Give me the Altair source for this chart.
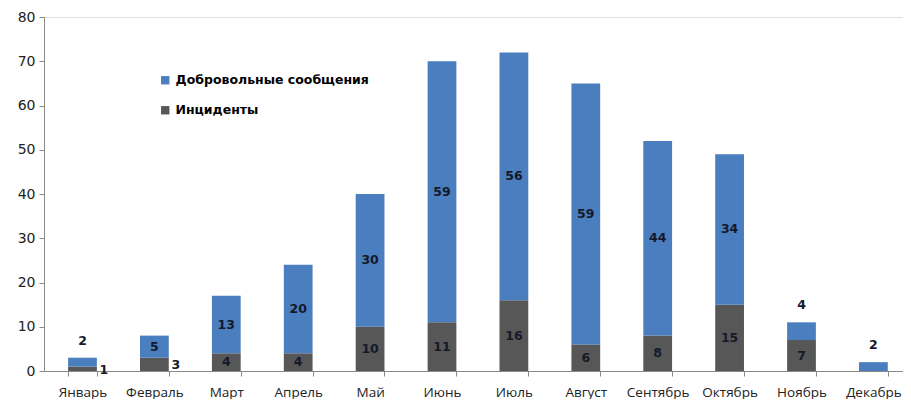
import altair as alt
import pandas as pd

months = ["Январь", "Февраль", "Март", "Апрель", "Май", "Июнь", "Июль",
          "Август", "Сентябрь", "Октябрь", "Ноябрь", "Декабрь"]
voluntary = [2, 5, 13, 20, 30, 59, 56, 59, 44, 34, 4, 2]
incidents = [1, 3, 4, 4, 10, 11, 16, 6, 8, 15, 7, 0]
series = ["Добровольные сообщения", "Инциденты"]
colors = ["#4a7ebf", "#575757"]

# label placement style (not data): which labels sit outside the bar
above_top = {"Январь", "Ноябрь", "Декабрь"}
right_side = {"Январь", "Февраль"}

rows = []
for m, v, i in zip(months, voluntary, incidents):
    rows.append({"month": m, "series": series[1], "value": i, "ord": 0,
                 "mid": i / 2, "top": i + v})
    rows.append({"month": m, "series": series[0], "value": v, "ord": 1,
                 "mid": i + v / 2, "top": i + v})
df = pd.DataFrame(rows)


def mode(r):
    if r["value"] == 0:
        return "none"
    if r["series"] == series[0] and r["month"] in above_top:
        return "above"
    if r["series"] == series[1] and r["month"] in right_side:
        return "right"
    return "inside"


df["mode"] = df.apply(mode, axis=1)

x_enc = alt.X("month:N", sort=months, title=None,
              scale=alt.Scale(paddingInner=0.6, paddingOuter=0.2735, align=0.613),
              axis=alt.Axis(labelAngle=0, tickBand="extent", labelFontSize=13.5,
                            labelFont="Open Sans", labelColor="#222222",
                            labelPadding=9, domainColor="#888888",
                            tickColor="#888888", tickSize=5))

bars = alt.Chart(df).mark_bar().encode(
    x=x_enc,
    y=alt.Y("value:Q", stack="zero", title=None,
            scale=alt.Scale(domain=[0, 80]),
            axis=alt.Axis(values=list(range(0, 81, 10)), grid=False,
                          labelFontSize=14, labelFont="DejaVu Sans",
                          labelColor="#222222", domainColor="#888888",
                          tickColor="#888888", tickSize=5, labelPadding=4)),
    color=alt.Color("series:N", scale=alt.Scale(domain=series, range=colors),
                    sort=series,
                    legend=alt.Legend(title=None, orient="none", legendX=115,
                                      legendY=57, symbolType="square",
                                      symbolSize=70, symbolStrokeWidth=0,
                                      labelFontSize=12.5, labelFont="DejaVu Sans",
                                      labelFontWeight="bold", labelColor="#000000",
                                      labelLimit=0, rowPadding=17, labelOffset=4)),
    order=alt.Order("ord:Q"),
)

txt_style = dict(fontSize=12.5, font="DejaVu Sans", fontWeight="bold", color="#14192a")

inside = alt.Chart(df).transform_filter(alt.datum.mode == "inside").mark_text(
    **txt_style, baseline="middle").encode(
    x=alt.X("month:N", sort=months), y=alt.Y("mid:Q"), text="value:Q")

above = alt.Chart(df).transform_filter(alt.datum.mode == "above").mark_text(
    **txt_style, baseline="middle", dy=-17).encode(
    x=alt.X("month:N", sort=months), y=alt.Y("top:Q"), text="value:Q")

right = alt.Chart(df).transform_filter(alt.datum.mode == "right").mark_text(
    **txt_style, baseline="middle", align="left", dx=17, dy=1).encode(
    x=alt.X("month:N", sort=months), y=alt.Y("mid:Q"), text="value:Q")

chart = alt.layer(bars, inside, above, right).properties(
    width=859, height=354,
    padding={"left": 9, "top": 2, "right": 0, "bottom": 0},
).configure_view(stroke=None).configure(background="white")

chart.save("out.html", embed_options={"renderer": "svg", "actions": False})
